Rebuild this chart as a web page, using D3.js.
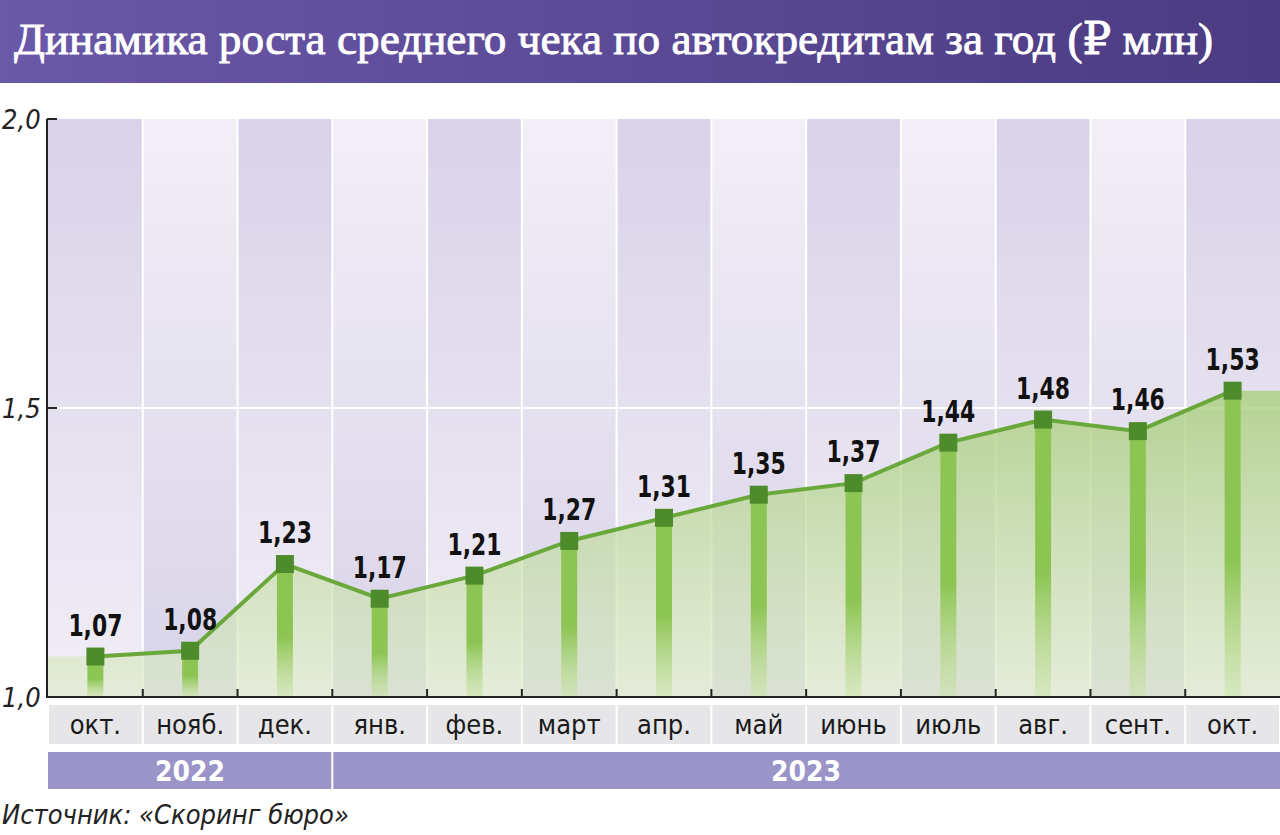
<!DOCTYPE html>
<html><head><meta charset="utf-8">
<script src="https://cdn.jsdelivr.net/npm/d3@7"></script>
<style>body{margin:0;background:#fff}svg{display:block}
.cond{font-family:'DejaVu Sans',sans-serif;font-stretch:condensed}</style>
</head><body>
<svg id="c" width="1280" height="835"></svg>
<script>
const title = "Динамика роста среднего чека по автокредитам за год (₽ млн)";
const months = ["окт.","нояб.","дек.","янв.","фев.","март","апр.","май","июнь","июль","авг.","сент.","окт."];
const values = [1.07,1.08,1.23,1.17,1.21,1.27,1.31,1.35,1.37,1.44,1.48,1.46,1.53];
const years = [{label:"2022", from:0, to:3},{label:"2023", from:3, to:13}];
const yTicks = [1.0,1.5,2.0];
const source = "Источник: «Скоринг бюро»";

const svg = d3.select("#c");
const defs = svg.append("defs");
const L = 48, R = 1280, T = 119, B = 697;
const x = d3.scaleBand().domain(d3.range(months.length)).range([L,R]).padding(0);
const y = d3.scaleLinear().domain([1.0,2.0]).range([B,T]);
const fmt = v => d3.format(".2f")(v).replace(".",",");
const fmt1 = v => d3.format(".1f")(v).replace(".",",");

// title band
const tg = defs.append("linearGradient").attr("id","tg");
tg.append("stop").attr("offset","0").attr("stop-color","#6a58a8");
tg.append("stop").attr("offset","1").attr("stop-color","#4b3b82");
svg.append("rect").attr("x",0).attr("y",0).attr("width",1280).attr("height",83).attr("fill","url(#tg)");
svg.append("text").attr("x",14).attr("y",54).attr("fill","#fff")
  .attr("stroke","#fff").attr("stroke-width",0.9)
  .attr("textLength",1199).attr("lengthAdjust","spacingAndGlyphs")
  .style("font-family","'Liberation Serif','DejaVu Serif',serif").style("font-size","45px")
  .text(title);

// column gradients
const g1 = defs.append("linearGradient").attr("id","colA").attr("x1",0).attr("y1",0).attr("x2",0).attr("y2",1);
g1.append("stop").attr("offset","0").attr("stop-color","#d9d2e9");
g1.append("stop").attr("offset","1").attr("stop-color","#f1eef6");
const g2 = defs.append("linearGradient").attr("id","colB").attr("x1",0).attr("y1",0).attr("x2",0).attr("y2",1);
g2.append("stop").attr("offset","0").attr("stop-color","#f2eff7");
g2.append("stop").attr("offset","1").attr("stop-color","#d8d3e8");

svg.append("g").selectAll("rect").data(months).join("rect")
  .attr("x",(d,i)=>x(i)).attr("y",T).attr("width",x.bandwidth()).attr("height",B-T)
  .attr("fill",(d,i)=> i%2===0 ? "url(#colA)" : "url(#colB)");
svg.append("g").selectAll("line").data(d3.range(1,months.length)).join("line")
  .attr("x1",i=>x(i)).attr("x2",i=>x(i)).attr("y1",T).attr("y2",B)
  .attr("stroke","#fff").attr("stroke-width",2);
svg.append("line").attr("x1",L).attr("x2",R).attr("y1",y(1.5)).attr("y2",y(1.5))
  .attr("stroke","#fff").attr("stroke-width",2);

// area
const ag = defs.append("linearGradient").attr("id","ag")
  .attr("gradientUnits","userSpaceOnUse").attr("x1",0).attr("x2",0).attr("y1",y(1.53)).attr("y2",B);
ag.append("stop").attr("offset","0").attr("stop-color","#a9cf7c").attr("stop-opacity",0.8);
ag.append("stop").attr("offset","1").attr("stop-color","#dcebc6").attr("stop-opacity",0.6);
const cx = i => x(i)+x.bandwidth()/2;
const pts = [[L, values[0]], ...values.map((v,i)=>[cx(i),v]), [R, values[values.length-1]]];
svg.append("path").datum(pts)
  .attr("d", d3.area().x(d=>d[0]).y0(B).y1(d=>y(d[1])))
  .attr("fill","url(#ag)");

// vertical bars under points
const bg = defs.append("linearGradient").attr("id","bg").attr("x1",0).attr("y1",0).attr("x2",0).attr("y2",1);
bg.append("stop").attr("offset","0").attr("stop-color","#8cc553");
bg.append("stop").attr("offset","0.55").attr("stop-color","#8cc553");
bg.append("stop").attr("offset","1").attr("stop-color","#c9e3a6").attr("stop-opacity",0.5);
svg.append("g").selectAll("rect").data(values).join("rect")
  .attr("x",(d,i)=>cx(i)-8).attr("y",d=>y(d)).attr("width",16).attr("height",d=>B-y(d))
  .attr("fill","url(#bg)");

// line
svg.append("path").datum(values)
  .attr("d", d3.line().x((d,i)=>cx(i)).y(d=>y(d)))
  .attr("fill","none").attr("stroke","#6aa83c").attr("stroke-width",4);
svg.append("g").selectAll("rect").data(values).join("rect")
  .attr("x",(d,i)=>cx(i)-9).attr("y",d=>y(d)-9).attr("width",18).attr("height",18)
  .attr("fill","#4e8b2b");
svg.append("g").selectAll("text").data(values).join("text").attr("class","cond")
  .attr("x",(d,i)=>cx(i)).attr("y",d=>y(d)-21).attr("text-anchor","middle")
  .style("font-weight","bold").style("font-size","30px").attr("fill","#111")
  .attr("textLength",54).attr("lengthAdjust","spacingAndGlyphs")
  .text(d=>fmt(d));

// axes
svg.append("line").attr("x1",L-1).attr("x2",L-1).attr("y1",T).attr("y2",B).attr("stroke","#222").attr("stroke-width",2);
svg.append("line").attr("x1",L-2).attr("x2",R).attr("y1",B).attr("y2",B).attr("stroke","#222").attr("stroke-width",2);
svg.append("g").selectAll("line").data(yTicks.slice(1)).join("line")
  .attr("x1",L-1).attr("x2",L+9).attr("y1",d=>y(d)).attr("y2",d=>y(d)).attr("stroke","#222").attr("stroke-width",2);
svg.append("g").selectAll("line").data(d3.range(1,months.length)).join("line")
  .attr("x1",i=>x(i)).attr("x2",i=>x(i)).attr("y1",B).attr("y2",B-8).attr("stroke","#222").attr("stroke-width",2);
svg.append("g").selectAll("text").data(yTicks).join("text").attr("class","cond")
  .attr("x",2).attr("y",d=>y(d)+10).attr("text-anchor","start")
  .style("font-style","italic").style("font-size","27px").attr("fill","#222")
  .text(d=>fmt1(d));

// month row
svg.append("g").selectAll("rect").data(months).join("rect")
  .attr("x",(d,i)=>x(i)+1).attr("y",705).attr("width",x.bandwidth()-2).attr("height",39)
  .attr("fill","#e6e6e9");
svg.append("g").selectAll("text").data(months).join("text").attr("class","cond")
  .attr("x",(d,i)=>cx(i)).attr("y",734).attr("text-anchor","middle")
  .style("font-size","27px").attr("fill","#1a1a1a").text(d=>d);

// year row
svg.append("g").selectAll("rect").data(years).join("rect")
  .attr("x",d=>x(d.from)+(d.from?1:0)).attr("y",752)
  .attr("width",d=>(d.to<months.length?x(d.to):R)-x(d.from)-(d.from?1:0)-(d.to<months.length?1:0))
  .attr("height",37).attr("fill","#9b94c9");
svg.append("g").selectAll("text").data(years).join("text").attr("class","cond")
  .attr("x",d=>d.from===0?190:806).attr("y",781).attr("text-anchor","middle")
  .style("font-weight","bold").style("font-size","28px").attr("fill","#fff").text(d=>d.label);

// source
svg.append("text").attr("class","cond").attr("x",2).attr("y",824)
  .style("font-style","italic").style("font-size","27px").attr("fill","#222").text(source);
</script>
</body></html>
